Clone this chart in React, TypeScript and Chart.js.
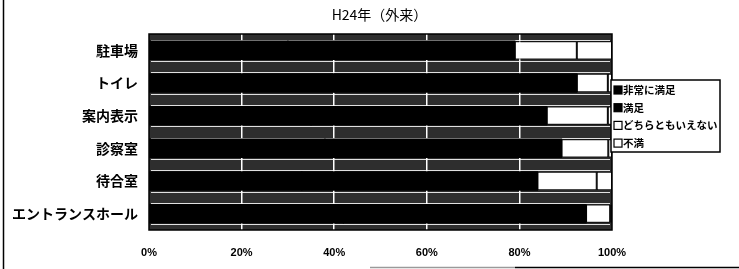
import React, { useEffect, useRef } from 'react';
import { Chart, registerables } from 'chart.js';

Chart.register(...registerables);

const TITLE = 'H24年（外来）';
const CATEGORIES = ['駐車場', 'トイレ', '案内表示', '診察室', '待合室', 'エントランスホール'];
const SERIES_NAMES = ['非常に満足', '満足', 'どちらともいえない', '不満'];
const VERY_SATISFIED = [30.0, 40.0, 35.0, 38.0, 33.0, 42.0];
const SATISFIED = [49.0, 52.4, 50.9, 51.1, 50.9, 52.4];
const NEUTRAL = [13.4, 6.7, 13.2, 10.1, 12.8, 5.2];
const DISSATISFIED = [7.6, 0.9, 0.9, 0.8, 3.3, 0.4];
const X_TICK_STEP = 20;
const X_MAX = 100;

export default function App() {
  const ref = useRef<HTMLCanvasElement>(null);

  useEffect(() => {
    const canvas = ref.current!;

    const plotBg = {
      id: 'plotBg',
      beforeDraw(chart: any) {
        const { ctx, chartArea: a } = chart;
        ctx.save();
        ctx.fillStyle = '#ffffff';
        ctx.fillRect(0, 0, chart.width, chart.height);
        ctx.fillStyle = '#2e2e2e';
        ctx.fillRect(a.left, a.top, a.right - a.left, a.bottom - a.top);
        ctx.restore();
      },
      beforeDatasetsDraw(chart: any) {
        const { ctx, chartArea: a } = chart;
        const meta = chart.getDatasetMeta(0);
        ctx.save();
        ctx.strokeStyle = 'rgba(255,255,255,0.85)';
        ctx.lineWidth = 1;
        meta.data.forEach((el: any) => {
          const top = el.y - el.height / 2;
          const bot = el.y + el.height / 2;
          [top - 1.5, bot + 1.5].forEach((yy) => {
            if (yy > a.top + 1 && yy < a.bottom - 1) {
              ctx.beginPath();
              ctx.moveTo(a.left + 2, Math.round(yy) + 0.5);
              ctx.lineTo(a.right - 2, Math.round(yy) + 0.5);
              ctx.stroke();
            }
          });
        });
        ctx.restore();
      },
    };

    const decor = {
      id: 'decor',
      afterDraw(chart: any) {
        const { ctx, chartArea: a } = chart;
        ctx.save();
        ctx.strokeStyle = '#000';
        ctx.lineWidth = 1.5;
        ctx.strokeRect(a.left, a.top, a.right - a.left, a.bottom - a.top);

        ctx.fillStyle = '#000';
        ctx.font = '14px "Noto Sans CJK JP"';
        ctx.textAlign = 'center';
        ctx.textBaseline = 'middle';
        ctx.fillText(TITLE, (a.left + a.right) / 2 - 1, 15);

        const lx = a.right - 1;
        const ly = 80;
        const lw = 109;
        const lh = 72;
        ctx.fillStyle = '#fff';
        ctx.fillRect(lx, ly, lw, lh);
        ctx.strokeStyle = '#000';
        ctx.lineWidth = 1.5;
        ctx.strokeRect(lx, ly, lw, lh);
        ctx.font = 'bold 10.5px "Noto Sans CJK JP"';
        ctx.textAlign = 'left';
        chart.data.datasets.forEach((ds: any, i: number) => {
          const cy = ly + 10 + i * 17.7;
          ctx.fillStyle = ds.backgroundColor;
          ctx.fillRect(lx + 3, cy - 4, 8, 8);
          ctx.strokeStyle = '#000';
          ctx.lineWidth = 1.2;
          ctx.strokeRect(lx + 3, cy - 4, 8, 8);
          ctx.fillStyle = '#000';
          ctx.fillText(ds.label, lx + 12, cy);
        });

        ctx.strokeStyle = '#000';
        ctx.lineWidth = 1.5;
        ctx.beginPath();
        ctx.moveTo(3.5, 0);
        ctx.lineTo(3.5, chart.height);
        ctx.stroke();
        ctx.strokeStyle = '#9a9a9a';
        ctx.beginPath();
        ctx.moveTo(370, 267.5);
        ctx.lineTo(515, 267.5);
        ctx.stroke();
        ctx.strokeStyle = '#000';
        ctx.beginPath();
        ctx.moveTo(515, 267.5);
        ctx.lineTo(739, 267.5);
        ctx.stroke();
        ctx.restore();
      },
    };

    const chart = new Chart(canvas, {
      type: 'bar',
      data: {
        labels: CATEGORIES,
        datasets: [
          { label: SERIES_NAMES[0], data: VERY_SATISFIED, backgroundColor: '#000000', borderWidth: 0, inflateAmount: 0.6 },
          { label: SERIES_NAMES[1], data: SATISFIED, backgroundColor: '#000000', borderWidth: 0, inflateAmount: 0.6 },
          { label: SERIES_NAMES[2], data: NEUTRAL, backgroundColor: '#ffffff', borderColor: '#000', borderWidth: 1, borderSkipped: false },
          { label: SERIES_NAMES[3], data: DISSATISFIED, backgroundColor: '#ffffff', borderColor: '#000', borderWidth: 1, borderSkipped: false },
        ],
      },
      options: {
        indexAxis: 'y',
        responsive: false,
        animation: false,
        devicePixelRatio: 1,
        datasets: { bar: { barPercentage: 0.56, categoryPercentage: 1 } },
        layout: { padding: { top: 34, right: 127, left: 0, bottom: 0 } },
        plugins: { legend: { display: false }, title: { display: false }, tooltip: { enabled: false } },
        scales: {
          x: {
            stacked: true,
            min: 0,
            max: X_MAX,
            ticks: {
              stepSize: X_TICK_STEP,
              callback: (v: any) => v + '%',
              color: '#000',
              font: { family: '"Liberation Sans", Arial, sans-serif', size: 11, weight: 'bold' },
              padding: 16,
              maxRotation: 0,
            },
            grid: {
              drawTicks: false,
              color: (c: any) => (c.tick && (c.tick.value === 0 || c.tick.value === X_MAX) ? 'rgba(0,0,0,0)' : '#ffffff'),
              lineWidth: 1.5,
            },
            border: { display: false },
            afterFit: (s: any) => { s.height = 39; },
          },
          y: {
            stacked: true,
            ticks: {
              color: '#000',
              font: { family: '"Noto Sans CJK JP"', size: 14, weight: 'bold' },
              padding: 11,
            },
            grid: { display: false, drawTicks: false },
            border: { display: false },
            afterFit: (s: any) => { s.width = 149; },
          },
        },
      },
      plugins: [plotBg, decor],
    } as any);

    return () => chart.destroy();
  }, []);

  return (
    <div style={{ position: 'absolute', left: 0, top: 0, width: 739, height: 269, background: '#fff' }}>
      <canvas ref={ref} width={739} height={269} style={{ display: 'block', width: 739, height: 269 }} />
    </div>
  );
}
